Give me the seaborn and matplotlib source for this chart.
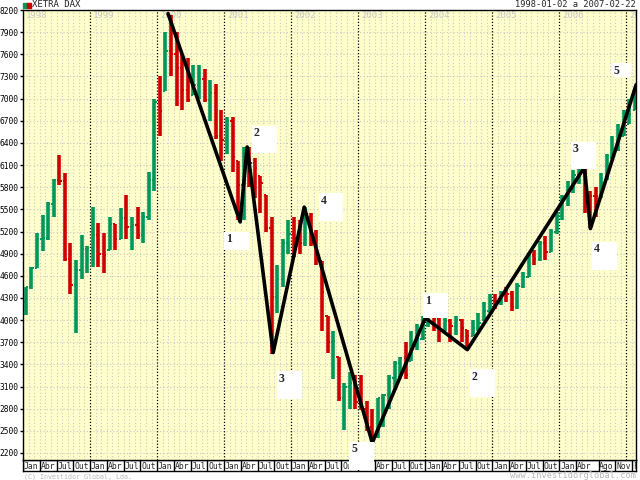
import numpy as np
import pandas as pd
import seaborn as sns
import matplotlib
matplotlib.use("Agg")
import matplotlib.pyplot as plt
from matplotlib.patches import Rectangle

# monthly bars Jan 1998 .. Feb 2007
highs = [4450, 4720, 5180, 5430, 5600, 5910, 6240, 5990, 5050, 4820, 5150, 5000,
         5530, 5320, 5180, 5400, 5300, 5520, 5700, 5400, 5530, 5470, 6000, 7000,
         7300, 7900, 8136, 7900, 7600, 7550, 7450, 7450, 7400, 7250, 7200, 6850,
         6750, 6750, 6150, 6350, 6350, 6200, 5950, 5700, 5400, 4750, 5100, 5350,
         5400, 5360, 5530, 5450, 5220, 4800, 4050, 3850, 3500, 3150, 3300, 3250,
         3250, 2900, 2800, 2950, 3000, 3250, 3450, 3500, 3700, 3850, 3950, 4050,
         4190, 4100, 4050, 4100, 4010, 4050, 4010, 3870, 4000, 4100, 4250, 4350,
         4350, 4400, 4450, 4400, 4500, 4650, 4900, 4950, 5070, 5140, 5240, 5460,
         5690, 5880, 6030, 6100, 6162, 5750, 5800, 5990, 6250, 6500, 6650, 6850,
         7000, 7100]
lows = [4070, 4420, 4700, 4930, 5080, 5390, 5830, 4800, 4350, 3820, 4550, 4640,
        4720, 4720, 4640, 4950, 4950, 5100, 5100, 4950, 5100, 5050, 5350, 5750,
        6500, 7100, 7300, 6900, 6850, 6950, 7050, 7000, 6950, 6700, 6450, 6150,
        6250, 6000, 5350, 5350, 5800, 5650, 5450, 5200, 3540, 4100, 4450, 4900,
        4850, 4900, 5000, 5000, 4750, 3850, 3550, 3200, 2900, 2510, 2800, 2800,
        2780, 2500, 2190, 2400, 2550, 2800, 3050, 3200, 3200, 3450, 3600, 3730,
        3900, 3850, 3700, 3850, 3700, 3800, 3700, 3600, 3780, 3850, 4000, 4100,
        4150, 4200, 4250, 4120, 4150, 4430, 4580, 4750, 4800, 4810, 4920, 5170,
        5350, 5550, 5720, 5850, 5450, 5243, 5400, 5650, 5900, 6200, 6300, 6500,
        6650, 6850]
closes = [4442, 4710, 5097, 5107, 5567, 5897, 5883, 4834, 4474, 4672, 4968, 4980,
          5151, 4893, 4884, 5300, 5100, 5378, 5257, 5290, 5150, 5400, 5900, 6958,
          6835, 7644, 7599, 7415, 7110, 6980, 7190, 7264, 6980, 7078, 6500, 6434,
          6700, 6208, 5830, 6265, 6123, 6058, 5862, 5250, 4308, 4559, 5045, 5160,
          5108, 5039, 5397, 5041, 4818, 4383, 3700, 3712, 2950, 3100, 3150, 2893,
          2800, 2547, 2424, 2942, 2983, 3221, 3420, 3484, 3257, 3655, 3746, 3965,
          4059, 4018, 3857, 3985, 3921, 4000, 3896, 3785, 3893, 3960, 4126, 4256,
          4254, 4350, 4349, 4184, 4460, 4586, 4886, 4829, 5044, 4929, 5193, 5408,
          5674, 5796, 5970, 6009, 5692, 5683, 5682, 5859, 6004, 6268, 6309, 6597,
          6789, 6980]
first_open = 4250

# Elliott wave zigzag (decimal year, index points)
wave_dates = [2000.164, 2001.239, 2001.343, 2001.731, 2002.194, 2003.209,
              2004.0, 2004.627, 2006.373, 2006.463, 2007.145]
wave_values = [8150, 5330, 6345, 3560, 5530, 2340, 4030, 3600, 6070, 5240, 7190]
wave_labels = ['1', '2', '3', '4', '5', '1', '2', '3', '4', '5']

y_ticks = list(range(2200, 8201, 300))
years = list(range(1998, 2008))
quarter_names = ['Jan', 'Abr', 'Jul', 'Out']
last_months = [(2006, 0, 'Jan'), (2006, 3, 'Abr'), (2006, 7, 'Ago'),
               (2006, 10, 'Nov'), (2007, 1, 'Fev')]

GREEN = '#00985A'
RED = '#D00000'
GRID = '#C8C8C8'
MONO = 'DejaVu Sans Mono'

sns.set_style('white')
plt.rcParams['font.family'] = [MONO]

W, H = 640, 480
fig = plt.figure(figsize=(6.4, 4.8), dpi=100)
ax = fig.add_axes([23 / W, 20 / H, 613 / W, 450.5 / H])
ax.set_zorder(2)
ax.set_facecolor('#FFFFCC')
x_end = 2007 + 52 / 365
ax.set_xlim(1998.0, x_end)
ax.set_ylim(2105, 8207)

# grid
for i in range(1, 111):
    m = 1998 + i / 12
    if i % 12 == 0:
        ax.axvline(m, color='black', ls=(0, (1, 1.5)), lw=0.9, zorder=1)
    else:
        ax.axvline(m, color=GRID, ls=(0, (1, 2)), lw=0.8, zorder=0.5)
for yt in y_ticks:
    ax.axhline(yt, color=GRID, ls=(0, (1, 2)), lw=0.8, zorder=0.5)

for yr in years:
    ax.text(yr + 0.045, 8132, str(yr), color=GRID, fontsize=6.5,
            va='center', ha='left', clip_on=True, zorder=1)

# OHLC bars
hi = np.array(highs)
lo = np.array(lows)
cl = np.clip(np.array(closes), lo, hi)
op = np.clip(np.array([first_open] + closes[:-1]), lo, hi)
xm = 1998 + (np.arange(len(closes)) + 0.5) / 12
up = cl >= op
tw = 0.4 / 12
for mask, col in [(up, GREEN), (~up, RED)]:
    ax.vlines(xm[mask], lo[mask], hi[mask], color=col, lw=2.6, zorder=2)
    ax.hlines(op[mask], xm[mask] - tw, xm[mask], color=col, lw=1.4, zorder=2)
    ax.hlines(cl[mask], xm[mask], xm[mask] + tw, color=col, lw=1.4, zorder=2)

wave = pd.DataFrame({'date': wave_dates, 'value': wave_values})
sns.lineplot(data=wave, x='date', y='value', sort=False, estimator=None,
             color='black', lw=2.6, ax=ax, zorder=3)
for ln in ax.get_lines():
    ln.set_solid_joinstyle('round')

ax.set_xticks([])
ax.set_yticks(y_ticks)
ax.set_yticklabels([str(v) for v in y_ticks])
ax.tick_params(axis='y', length=2.5, width=1, pad=0.5, labelsize=5.7,
               direction='out', left=True, colors='black')
ax.set_xlabel('')
ax.set_ylabel('')
for s in ax.spines.values():
    s.set_visible(True)
    s.set_color('black')
    s.set_linewidth(1)

# month strip
ax2 = fig.add_axes([23 / W, 9 / H, 613 / W, 11 / H])
ax2.set_zorder(1)
ax2.set_xlim(1998.0, x_end)
ax2.set_ylim(0, 1)
ax2.set_xticks([])
ax2.set_yticks([])
ax2.set_facecolor('white')
for s in ax2.spines.values():
    s.set_color('black')
    s.set_linewidth(1)
marks = [(yr, q * 3, name) for yr in range(1998, 2006)
         for q, name in enumerate(quarter_names)] + last_months
for yr, mo, name in marks:
    pos = yr + mo / 12
    ax2.axvline(pos, color='black', lw=1)
    ax2.text(pos + 0.012, 0.42, name, fontsize=5.8, va='center', ha='left',
             clip_on=True)

# header / footer
fig.add_artist(Rectangle((23 / W, 1 - 8 / H), 4 / W, 5 / H, color=GREEN,
                         transform=fig.transFigure))
fig.add_artist(Rectangle((27 / W, 1 - 8 / H), 4 / W, 5 / H, color=RED,
                         transform=fig.transFigure))
fig.text(32 / W, 1 - 4.5 / H, 'XETRA DAX', fontsize=6.5, va='center')
fig.text(636 / W, 1 - 4.5 / H, '1998-01-02 a 2007-02-22', fontsize=6.3,
         va='center', ha='right')
fig.text(24 / W, 1 - 477 / H, '(C) Investidor Global, Lda.', fontsize=4.8,
         va='center', color='#B8B8B8')
fig.text(636 / W, 1 - 476 / H, 'www.investidorglobal.com', fontsize=6.2,
         va='center', ha='right', color='#B8B8B8')

# wave label boxes (pixel layout)
box_px = [(224, 232, 249, 250), (252, 126, 277, 153), (277, 371, 302, 399),
          (319, 193, 343, 221), (349, 442, 374, 470), (423, 293, 448, 318),
          (470, 369, 495, 397), (571, 142, 596, 169), (592, 242, 617, 270),
          (612, 63, 631, 77)]
for lab, (x0, y0, x1, y1) in zip(wave_labels, box_px):
    fig.add_artist(Rectangle((x0 / W, 1 - y1 / H), (x1 - x0) / W, (y1 - y0) / H,
                             facecolor='white', edgecolor='none',
                             transform=fig.transFigure, zorder=10))
    fig.text((x0 + 2) / W, 1 - (y0 + 1.5) / H, lab, fontsize=8.5,
             fontweight='bold', family='Liberation Serif', va='top',
             ha='left', zorder=11)

fig.savefig('out.png', dpi=100, facecolor='white')
